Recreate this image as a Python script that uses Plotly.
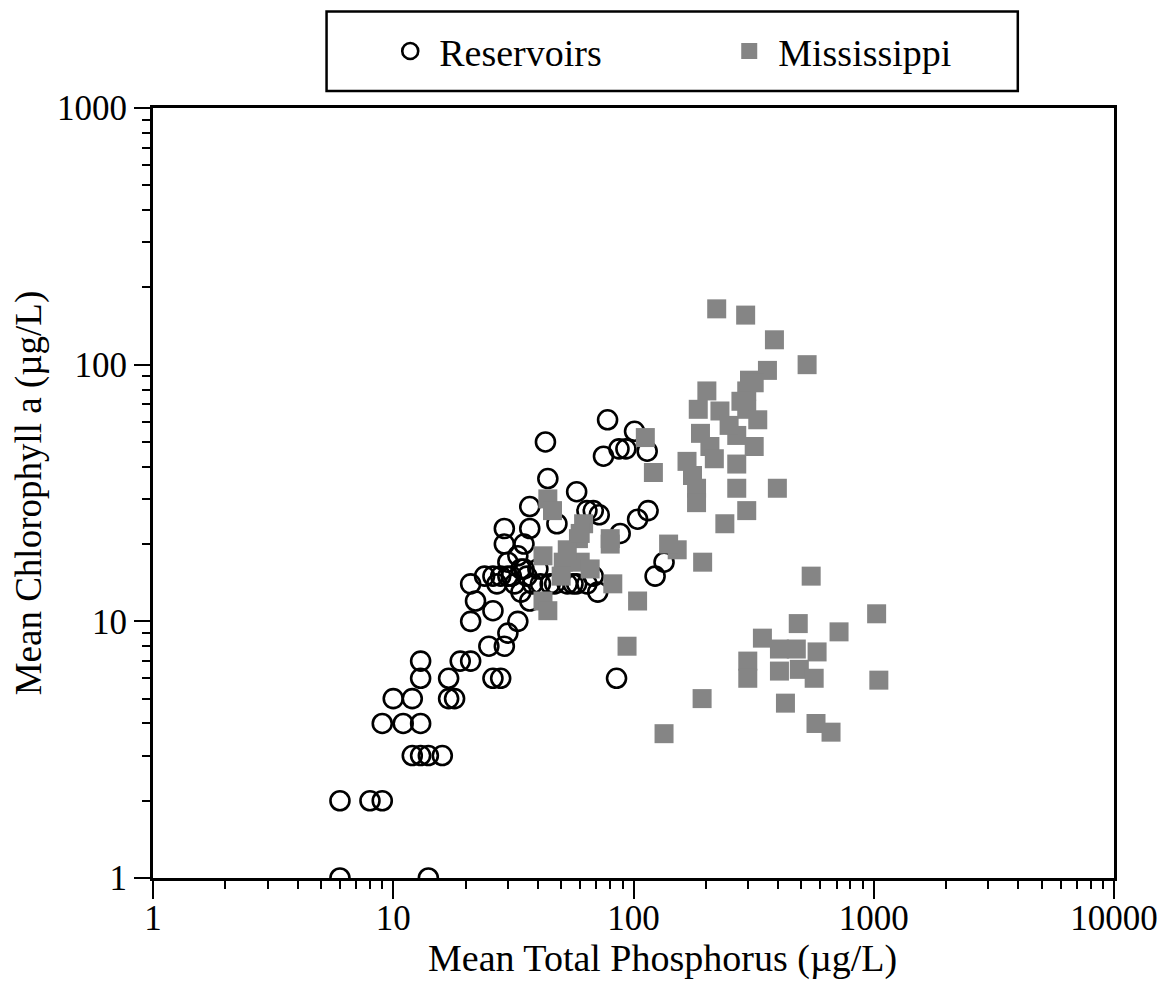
import plotly.graph_objects as go

# Reservoirs (open circles): mean total phosphorus (ug/L), mean chlorophyll a (ug/L)
res_tp = [6, 6, 8, 9, 14,
          9, 11, 13, 10, 12, 13, 13,
          12, 13, 14, 16,
          17, 17, 18, 19, 21, 25, 26, 28,
          29, 30, 33, 26, 21, 22, 21, 24, 26, 28, 30, 32, 34, 36, 34, 38, 41, 45,
          53, 58, 64, 71, 68, 37, 33, 30, 35, 29, 35, 29, 37, 48, 37, 44, 43, 58,
          64, 68, 72, 78, 101, 75, 87, 93, 114, 104, 115, 88, 134, 123, 85,
          27, 47, 56, 31, 40]
res_chl = [2, 1, 2, 2, 1,
           4, 4, 4, 5, 5, 7, 6,
           3, 3, 3, 3,
           6, 5, 5, 7, 7, 8, 6, 6,
           8, 9, 10, 11, 10, 12, 14, 15, 15, 15, 15, 14, 16, 15, 13, 14, 14, 14,
           14, 14, 14, 13, 15, 12, 18, 17, 16, 20, 20, 23, 23, 24, 28, 36, 50, 32,
           27, 27, 26, 61, 55, 44, 47, 47, 46, 25, 27, 22, 17, 15, 6,
           14, 14, 14, 15, 16]

# Mississippi (grey squares)
mis_tp = [222, 293, 386, 528, 361, 304, 202, 296, 318, 186, 229, 296, 329, 190,
          269, 318, 208, 217, 167, 269, 176, 183, 397, 269, 183, 296, 240, 112,
          121, 152, 140, 194, 549, 80, 82, 104, 94, 485, 1028, 717, 344, 405,
          476, 581, 299, 405, 490, 565, 299, 1050, 429, 193, 575, 664, 134,
          44, 46, 62, 80, 59, 42, 51, 60, 66, 50, 42, 53, 60, 44, 250, 280]
mis_chl = [165, 156, 125, 100, 95, 87, 79, 79, 85, 67, 66, 67, 61, 54,
           53, 48, 48, 43, 42, 41, 37, 33, 33, 33, 29, 27, 24, 52,
           38, 19, 20, 17, 15, 21, 14, 12, 8, 9.8, 10.7, 9.1, 8.6, 7.8,
           7.8, 7.6, 7.0, 6.4, 6.5, 6.0, 6.0, 5.9, 4.8, 5.0, 4.0, 3.7, 3.65,
           30, 27, 24, 20, 21, 18, 17, 17, 16, 15, 12, 19, 22, 11, 58, 72]

x_ticks = [1, 10, 100, 1000, 10000]
y_ticks = [1, 10, 100, 1000]
x_minor = [m * 10 ** e for e in range(4) for m in range(2, 10)]
y_minor = [m * 10 ** e for e in range(3) for m in range(2, 10)]

FONT = "Liberation Serif, Times New Roman, serif"

fig = go.Figure()
fig.add_trace(go.Scatter(
    x=res_tp, y=res_chl, mode="markers", name="Reservoirs",
    marker=dict(symbol="circle-open", size=19, color="black",
                line=dict(width=2.6, color="black")),
))
fig.add_trace(go.Scatter(
    x=mis_tp, y=mis_chl, mode="markers", name="Mississippi",
    marker=dict(symbol="square", size=19, color="#858585",
                line=dict(width=0)),
))

axis_common = dict(
    type="log", showgrid=False, zeroline=False,
    showline=True, linecolor="black", linewidth=3, mirror=True,
    ticks="outside", tickcolor="black", tickwidth=2,
    tickfont=dict(family=FONT, size=35, color="black"),
)

fig.update_xaxes(
    **axis_common, range=[0, 4], tickmode="array", tickvals=x_ticks,
    ticktext=[str(v) for v in x_ticks], ticklen=18, ticklabelstandoff=-11,
    minor=dict(ticks="outside", ticklen=8, tickwidth=1.5, tickcolor="black",
               tickmode="array", tickvals=x_minor, showgrid=False),
)
fig.update_yaxes(
    **axis_common, range=[0, 3], tickmode="array", tickvals=y_ticks,
    ticktext=[str(v) for v in y_ticks], ticklen=16,
    minor=dict(ticks="outside", ticklen=8, tickwidth=1.5, tickcolor="black",
               tickmode="array", tickvals=y_minor, showgrid=False),
    title=dict(text="Mean Chlorophyll a (µg/L)",
               font=dict(family=FONT, size=37, color="black"), standoff=11),
)

fig.update_layout(
    width=1162, height=984,
    margin=dict(l=140, r=53, t=96, b=114),
    paper_bgcolor="white", plot_bgcolor="white",
    font=dict(family=FONT, color="black"),
    showlegend=True,
    legend=dict(
        orientation="h", x=0.2375, xanchor="left", y=1.0736, yanchor="middle",
        font=dict(family=FONT, size=38, color="black"),
        bgcolor="rgba(0,0,0,0)", borderwidth=0,
        itemwidth=48, entrywidth=276, entrywidthmode="pixels",
    ),
    shapes=[dict(type="rect", xref="paper", yref="paper",
                 x0=0.1806, x1=0.8999, y0=1.022, y1=1.1253,
                 line=dict(color="black", width=2.5))],
    annotations=[dict(text="Mean Total Phosphorus (µg/L)", xref="paper",
                      yref="paper", x=0.530, y=-0.104, xanchor="center",
                      yanchor="middle", showarrow=False,
                      font=dict(family=FONT, size=38, color="black"))],
)

fig.write_html("out.html")
